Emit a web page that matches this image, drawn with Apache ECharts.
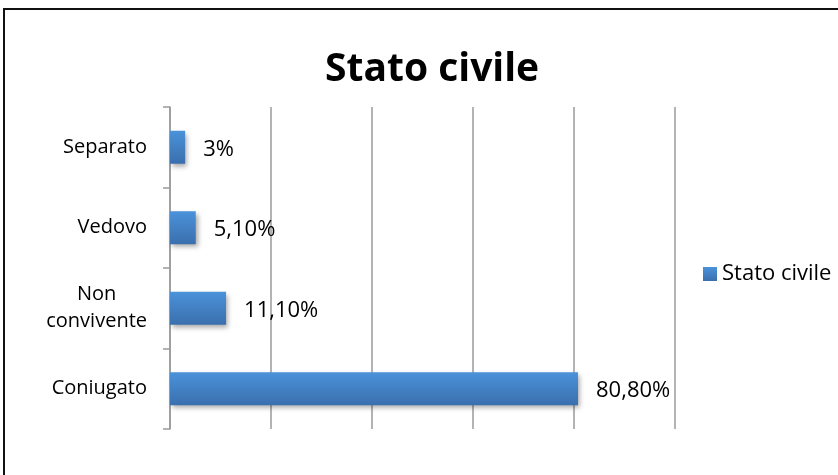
<!DOCTYPE html>
<html>
<head>
<meta charset="utf-8">
<script src="https://cdn.jsdelivr.net/npm/echarts@6/dist/echarts.min.js"></script>
<style>
    html, body { margin: 0; padding: 0; background: #fff; overflow: hidden; }
    .frame {
        position: absolute;
        left: 3px;
        top: 8px;
        width: 850px;
        height: 480px;
        border: 2px solid #111;
        box-sizing: border-box;
    }
    #chart {
        position: absolute;
        left: 0;
        top: 0;
        width: 838px;
        height: 475px;
    }
</style>
</head>
<body>
<div class="frame"></div>
<div id="chart"></div>
<script>
// dati (dal basso verso l'alto)
const categories = ['Coniugato', 'Non convivente', 'Vedovo', 'Separato'];
const values = [80.8, 11.1, 5.1, 3];
const valueLabels = ['80,80%', '11,10%', '5,10%', '3%'];
const seriesName = 'Stato civile';

const font = 'Open Sans';
const chart = echarts.init(document.getElementById('chart'));

const option = {
    animation: false,
    title: {
        text: 'Stato civile',
        left: 320,
        top: 45,
        textStyle: { fontFamily: font, fontSize: 39, fontWeight: 'bold', color: '#000' }
    },
    legend: {
        data: [seriesName],
        left: 698,
        top: 258,
        icon: 'rect',
        itemWidth: 14,
        itemHeight: 14,
        textStyle: { fontFamily: font, fontSize: 22, color: '#000' }
    },
    grid: {
        left: 170,
        right: 163,
        top: 107,
        bottom: 46
    },
    xAxis: {
        type: 'value',
        min: 0,
        max: 100,
        interval: 20,
        axisLine: { show: false },
        axisTick: { show: false },
        axisLabel: { show: false },
        splitLine: { lineStyle: { color: '#9a9a9a', width: 1.5 } }
    },
    yAxis: {
        type: 'category',
        data: categories,
        axisLine: { lineStyle: { color: '#9a9a9a', width: 1.5 } },
        axisTick: { show: true, length: 7, lineStyle: { color: '#9a9a9a', width: 1.5 } },
        axisLabel: {
            margin: 23,
            fontFamily: font,
            fontSize: 20,
            color: '#000',
            lineHeight: 27,
            formatter: (v) => v === 'Non convivente'
                ? '{c|Non}\n{c|convivente}'
                : v,
            rich: { c: { align: 'center', fontFamily: font, fontSize: 20, color: '#000', lineHeight: 27 } }
        }
    },
    series: [{
        name: seriesName,
        type: 'bar',
        data: values,
        barCategoryGap: '59%',
        itemStyle: {
            color: new echarts.graphic.LinearGradient(0, 0, 0, 1, [
                { offset: 0, color: '#4b92da' },
                { offset: 1, color: '#3a6fad' }
            ]),
            shadowColor: 'rgba(0,0,0,0.35)',
            shadowBlur: 5,
            shadowOffsetX: 2,
            shadowOffsetY: 3
        },
        label: {
            show: true,
            position: 'right',
            distance: 18,
            offset: [0, 2],
            fontFamily: font,
            fontSize: 22,
            color: '#000',
            formatter: (p) => valueLabels[p.dataIndex]
        }
    }]
};

chart.setOption(option);
</script>
</body>
</html>
